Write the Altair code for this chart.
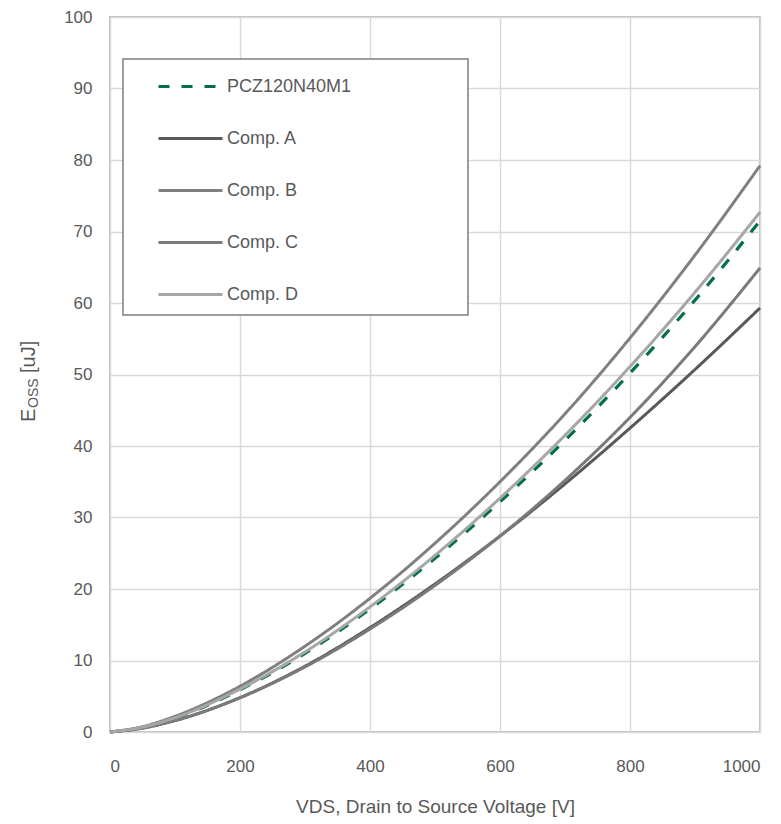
import altair as alt
import pandas as pd

# ---- data ----
vds = [0, 50, 100, 200, 300, 400, 500, 600, 700, 800, 900, 1000]
pcz = [0, 0.66, 1.95, 5.9, 11.0, 17.2, 24.3, 32.2, 40.8, 50.2, 60.4, 71.5]
comp_a = [0, 0.55, 1.6, 4.8, 9.2, 14.6, 20.7, 27.4, 34.7, 42.5, 50.7, 59.3]
comp_b = [0, 0.75, 2.2, 6.4, 12.0, 18.7, 26.4, 35.0, 44.5, 55.1, 66.7, 79.2]
comp_c = [0, 0.55, 1.6, 4.8, 9.1, 14.4, 20.5, 27.4, 35.2, 44.0, 53.9, 64.9]
comp_d = [0, 0.68, 2.0, 6.0, 11.2, 17.5, 24.7, 32.7, 41.5, 51.1, 61.5, 72.7]

names = ["PCZ120N40M1", "Comp. A", "Comp. B", "Comp. C", "Comp. D"]
series = [pcz, comp_a, comp_b, comp_c, comp_d]
colors = ["#00704A", "#595959", "#808080", "#7A7A7A", "#A6A6A6"]
dashes = [[11, 12], [1, 0], [1, 0], [1, 0], [1, 0]]
x_ticks = [0, 200, 400, 600, 800, 1000]
y_ticks = [0, 10, 20, 30, 40, 50, 60, 70, 80, 90, 100]

rows = []
for n, s in zip(names, series):
    for v, e in zip(vds, s):
        rows.append({"series": n, "V": v, "E": e})
df = pd.DataFrame(rows)
one = pd.DataFrame({"a": [0]})

FONT = "Liberation Sans"
TXT = "#595959"

legend = alt.Legend(
    title=None, orient="none", legendX=47, legendY=36,
    symbolType="stroke", symbolSize=4096, symbolStrokeWidth=3,
    labelFont=FONT, labelFontSize=18, labelColor=TXT, labelOffset=3,
    rowPadding=9, padding=0,
)

enc = dict(
    x=alt.X("V:Q", scale=alt.Scale(domain=[0, 1000], nice=False),
            axis=alt.Axis(values=x_ticks, format="d", title="VDS, Drain to Source Voltage [V]")),
    y=alt.Y("E:Q", scale=alt.Scale(domain=[0, 100], nice=False),
            axis=alt.Axis(values=y_ticks, format="d", title=None)),
    color=alt.Color("series:N", scale=alt.Scale(domain=names, range=colors), legend=legend),
    strokeDash=alt.StrokeDash("series:N", scale=alt.Scale(domain=names, range=dashes), legend=legend),
)

box = alt.Chart(one).mark_rect(fill="white", stroke="#7F7F7F", strokeWidth=1.5).encode(
    x=alt.value(13), x2=alt.value(358), y=alt.value(42), y2=alt.value(298)
)

line_pcz = alt.Chart(df).transform_filter(alt.datum.series == names[0]).mark_line(
    strokeWidth=3.2, interpolate="monotone").encode(**enc)
line_comp = alt.Chart(df).transform_filter(alt.datum.series != names[0]).mark_line(
    strokeWidth=3, interpolate="monotone").encode(**enc)

t_e = alt.Chart(one).mark_text(text="E", angle=270, align="left", baseline="middle",
                               font=FONT, fontSize=20, color=TXT).encode(
    x=alt.value(-81), y=alt.value(405))
t_oss = alt.Chart(one).mark_text(text="OSS", angle=270, align="left", baseline="middle",
                                 font=FONT, fontSize=14, color=TXT).encode(
    x=alt.value(-76), y=alt.value(391))
t_uj = alt.Chart(one).mark_text(text="[uJ]", angle=270, align="left", baseline="middle",
                                font=FONT, fontSize=20, color=TXT).encode(
    x=alt.value(-81), y=alt.value(356))

chart = alt.layer(box, line_pcz, line_comp, t_e, t_oss, t_uj).properties(
    width=650, height=715,
    autosize=alt.AutoSizeParams(type="none"),
    padding={"left": 110, "top": 17, "right": 21, "bottom": 92},
).configure_view(stroke="#BFBFBF", strokeWidth=2).configure_axis(
    labelFont=FONT, labelFontSize=17, labelColor=TXT,
    titleFont=FONT, titleFontSize=19, titleColor=TXT, titleFontWeight="normal",
    ticks=False, domain=False, gridColor="#D9D9D9", gridWidth=1.5,
).configure_axisX(labelPadding=26, titlePadding=23).configure_axisY(labelPadding=18)

chart.save("out.html", embed_options={"renderer": "svg", "actions": False})
